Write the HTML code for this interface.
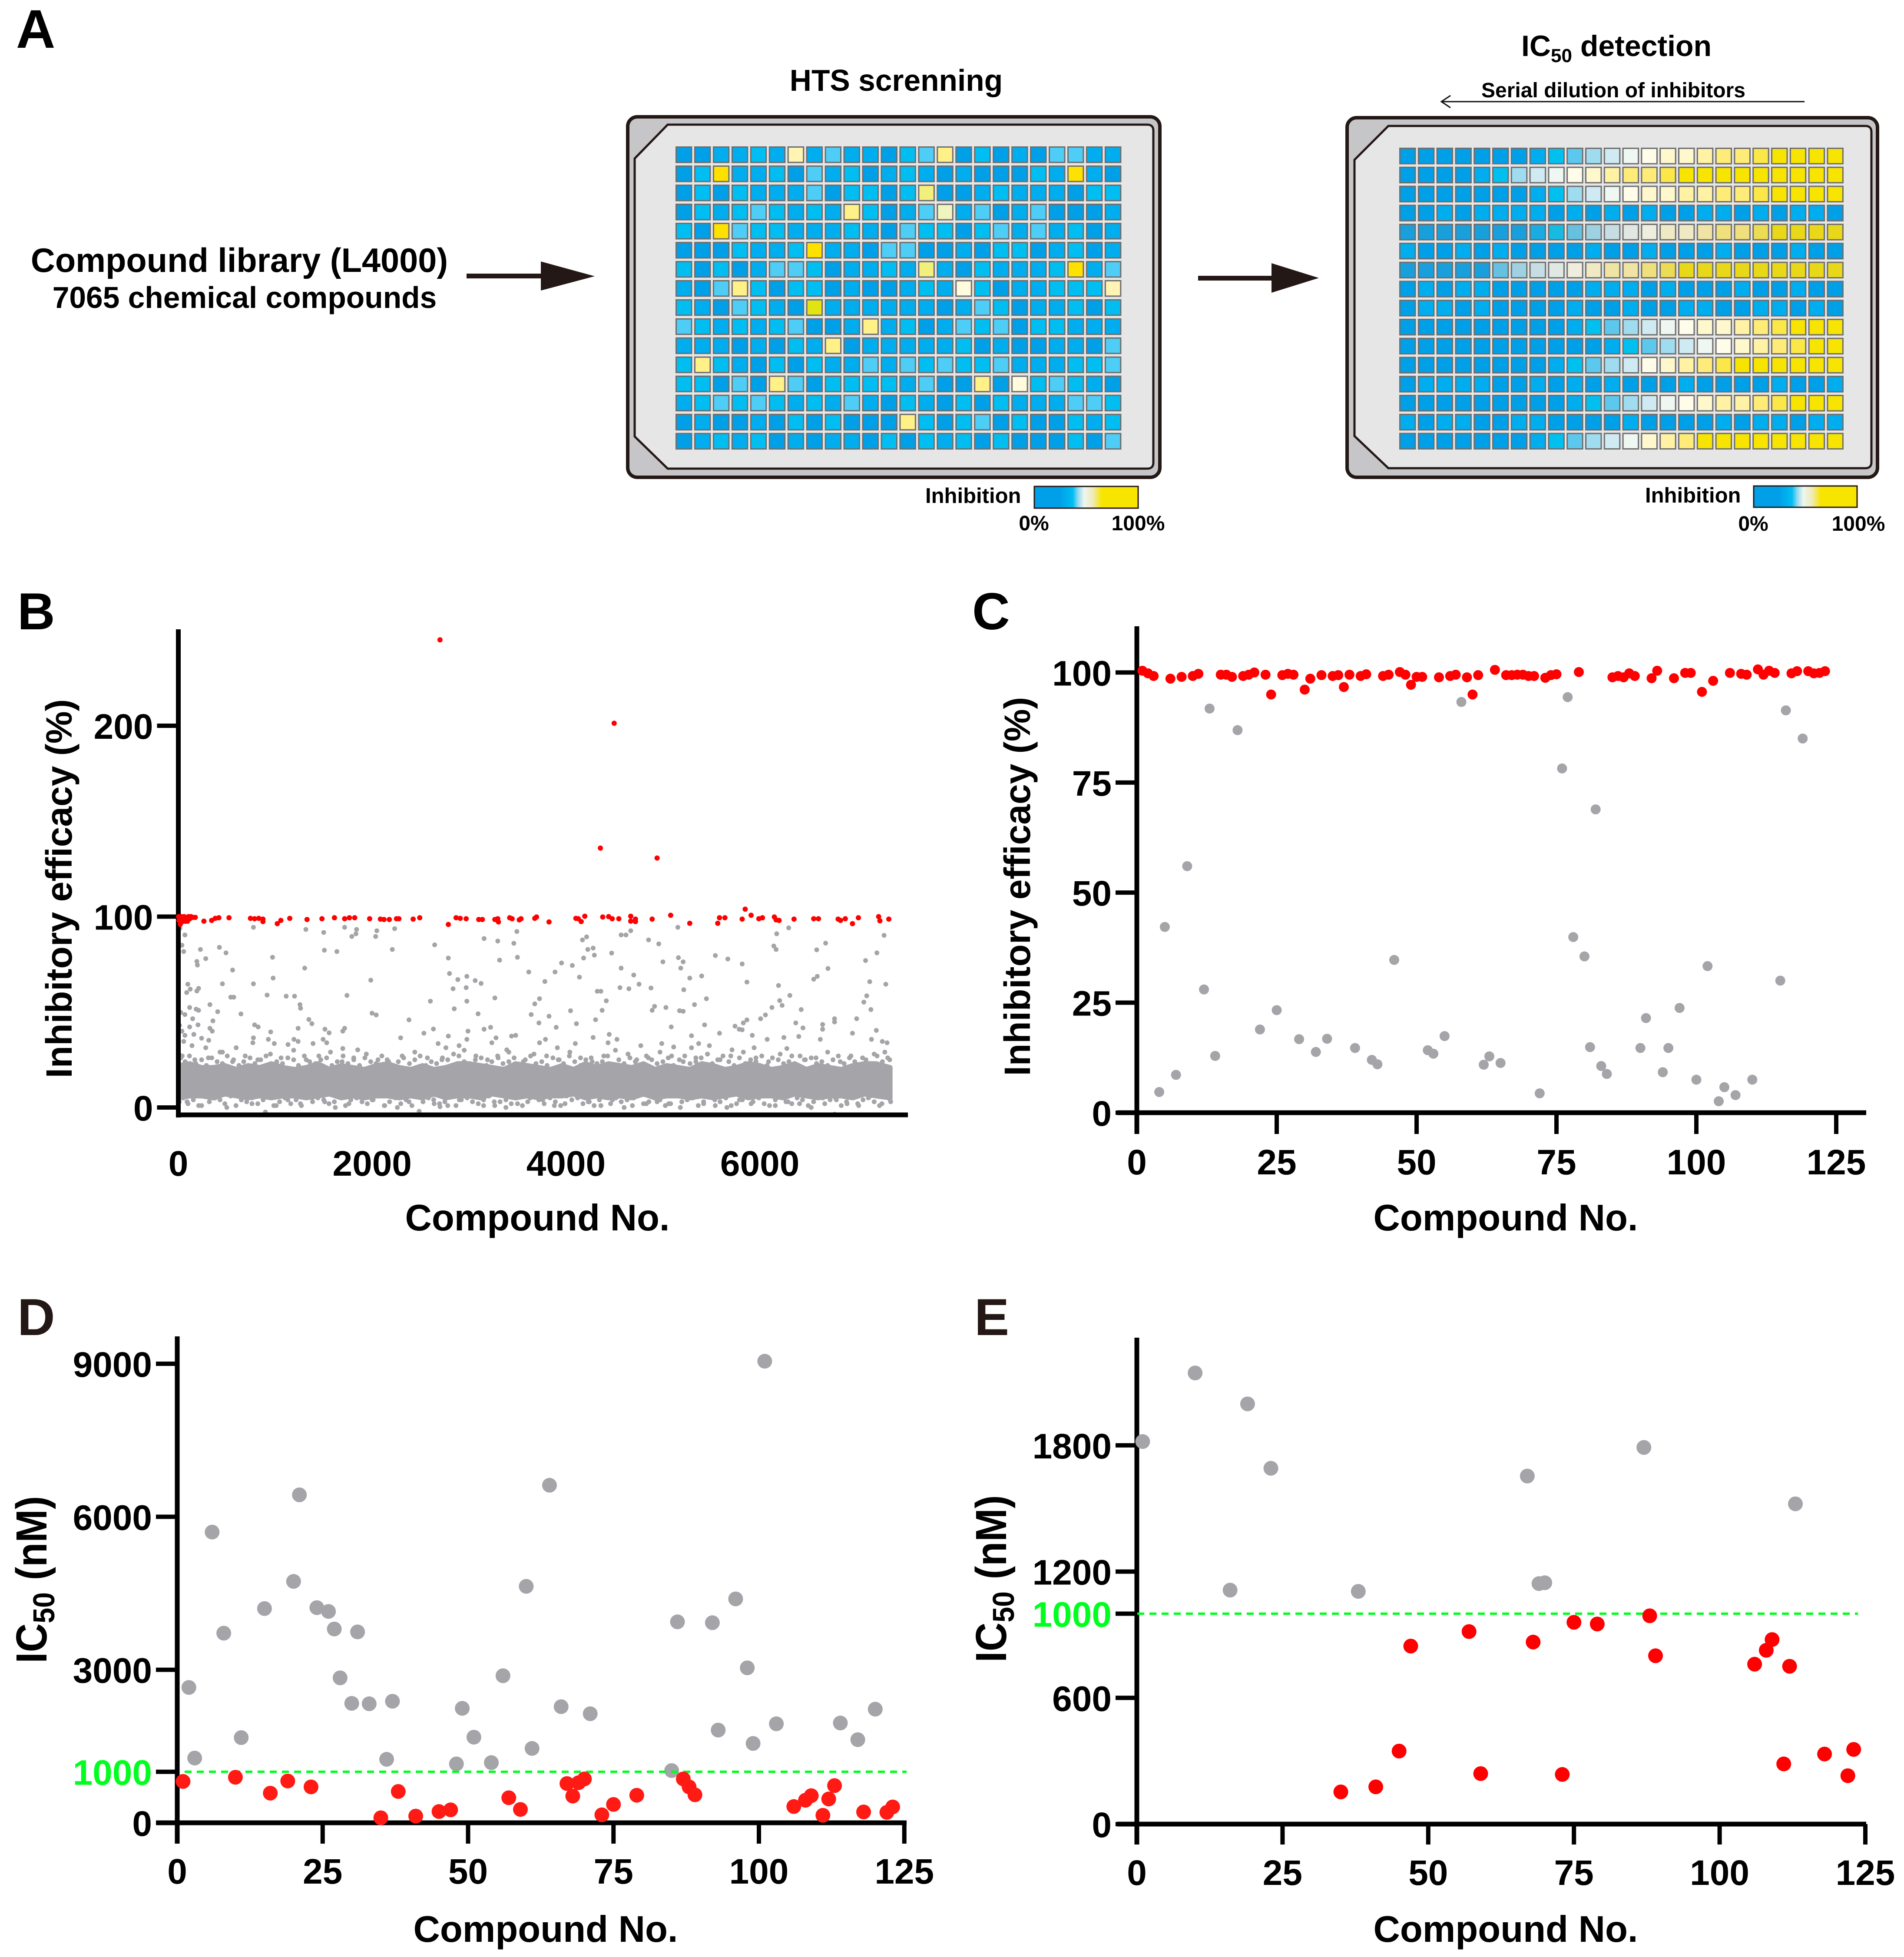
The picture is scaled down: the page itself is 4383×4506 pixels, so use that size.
<!DOCTYPE html>
<html lang="en">
<head>
<meta charset="utf-8">
<title>High-throughput screening of a compound library</title>
<style>
html,body{margin:0;padding:0;background:#fff;}
svg{display:block;font-family:"Liberation Sans",Arial,sans-serif;font-weight:bold;}
</style>
</head>
<body>
<svg id="figure" xmlns="http://www.w3.org/2000/svg" width="4383" height="4506" viewBox="0 0 4383 4506">
<defs>
<linearGradient id="inhibition-gradient" x1="0" x2="1" y1="0" y2="0">
<stop offset="0" stop-color="#00a0e9"/><stop offset=".25" stop-color="#00a0e9"/><stop offset=".37" stop-color="#00bdf2"/><stop offset=".42" stop-color="#8fd8ef"/><stop offset=".48" stop-color="#eef6f0"/><stop offset=".56" stop-color="#efebbd"/><stop offset=".65" stop-color="#f7e500"/><stop offset="1" stop-color="#f7e500"/>
</linearGradient>
</defs>
<rect width="4383" height="4506" fill="#fff"/>

<g>
<text x="37" y="110" font-size="125">A</text>
<text x="551" y="626" font-size="77.5" text-anchor="middle">Compound library (L4000)</text>
<text x="563" y="709" font-size="69.5" text-anchor="middle">7065 chemical compounds</text>
<g fill="#231815"><rect x="1074" y="630" width="175" height="11"/><polygon points="1245,602 1369,636 1245,669"/></g>
<g fill="#231815"><rect x="2758" y="635" width="173" height="11"/><polygon points="2927,606 3036,640 2927,674"/></g>
<text x="2063" y="209" font-size="69.5" text-anchor="middle">HTS screnning</text>
<g>
<rect x="1445" y="269" width="1225" height="830" rx="22" fill="#c6c6c8" stroke="#231815" stroke-width="8"/>
<path d="M1537 287H2641Q2655 287 2655 301V1065Q2655 1079 2641 1079H1537L1461 1005V365Z" fill="#e6e6e6" stroke="#231815" stroke-width="5"/>
<g id="hts-wells"></g>
</g>
<g>
<text x="2130" y="1158" font-size="49">Inhibition</text>
<rect x="2381" y="1120" width="239" height="50" fill="url(#inhibition-gradient)" stroke="#231815" stroke-width="3"/>
<text x="2380" y="1221" font-size="48" text-anchor="middle">0%</text>
<text x="2620" y="1221" font-size="48" text-anchor="middle">100%</text>
</g>
<text x="3502" y="129" font-size="68">IC<tspan font-size="44" dy="14">50</tspan><tspan dy="-14"> detection</tspan></text>
<text x="3714" y="224" font-size="48" text-anchor="middle">Serial dilution of inhibitors</text>
<path d="M4154 234H3318M3339 220L3318 234L3339 248" fill="none" stroke="#111" stroke-width="3"/>
<g>
<rect x="3101" y="271" width="1221" height="828" rx="22" fill="#c6c6c8" stroke="#231815" stroke-width="8"/>
<path d="M3196 290H4294Q4308 290 4308 304V1064Q4308 1078 4294 1078H3196L3118 1004V368Z" fill="#e6e6e6" stroke="#231815" stroke-width="5"/>
<g id="ic50-wells"></g>
</g>
<g>
<text x="3787" y="1157" font-size="49">Inhibition</text>
<rect x="4037" y="1119" width="238" height="49" fill="url(#inhibition-gradient)" stroke="#231815" stroke-width="3"/>
<text x="4036" y="1222" font-size="48" text-anchor="middle">0%</text>
<text x="4278" y="1222" font-size="48" text-anchor="middle">100%</text>
</g>
</g>

<g id="panel-b">
<text x="40" y="1449" font-size="120">B</text>
<text transform="translate(165,2046) rotate(-90)" font-size="84" text-anchor="middle">Inhibitory efficacy (%)</text>
<text x="1237" y="2833" font-size="85" text-anchor="middle">Compound No.</text>
</g>
<g id="panel-c">
<text x="2238" y="1449" font-size="120">C</text>
<text transform="translate(2371,2041) rotate(-90)" font-size="84" text-anchor="middle">Inhibitory efficacy (%)</text>
<text x="3466" y="2833" font-size="85" text-anchor="middle">Compound No.</text>
</g>
<g id="panel-d">
<text x="40" y="3074" font-size="120" fill="#231815">D</text>
<text transform="translate(107,3637) rotate(-90) scale(.92,1)" font-size="100" text-anchor="middle">IC<tspan font-size="70" dy="18">50</tspan><tspan dy="-18" dx="30">(nM)</tspan></text>
<text x="1256" y="4471" font-size="85" text-anchor="middle">Compound No.</text>
</g>
<g id="panel-e">
<text x="2243" y="3074" font-size="120" fill="#231815">E</text>
<text transform="translate(2316,3635) rotate(-90) scale(.92,1)" font-size="100" text-anchor="middle">IC<tspan font-size="70" dy="18">50</tspan><tspan dy="-18" dx="30">(nM)</tspan></text>
<text x="3466" y="4471" font-size="85" text-anchor="middle">Compound No.</text>
</g>
</svg>

<script>
/* ---------- Plate data ---------- */
const htsPlateRows = ["aabbcblbdbbacdeacabaddbb","acfbbcadbcabcbabaaacbfba","acacbbbdaccachaabcbbbacc","acbcdcbcbecabdkbdabdaaab","cafdccbbbcbadccacdbdbcab","aaacbbcfbbaddaabaccabcab","cacabddcabbcbhbacbbbcfbd","badecaccabaabcbgcabbcccl","cbadcbaibbbbbbabdcabbcac","dcbcbcdaabebcabdcdaccbbb","bbbabacbeabbbbbcabaabbad","cecbacacbbdbdcdccdbbbccd","ccadaedaccccbdaaeagcdcba","bcdcdcbcbdbacbacacbbbddc","abaabacacaaaecacdacaacbc","abcbcababbacacbcacaaacad"];
const htsLevels = {a:"#00a0e9",b:"#00aeef",c:"#00bef2",d:"#4ecdf6",e:"#fff088",f:"#ffe100",g:"#fffbdc",h:"#f2f07c",i:"#e1e410",k:"#f0f4bf",l:"#fff4b4"};
const ic50PlateRows = ["00000001234567889AABCCCC","000012456789AABCCCCCCCCC","00000001245678899AABCCCC","001011110101010011010110","00000001234567889AABCCCC","100101000010010001000100","0000034567899ABCCCCCCCCC","010110000011101000100100","011010000100100110011010","0000000001234567889ABCCC","00000000000123456789ABCC","0000000012345789ABCCCCCC","011110010101000100001001","0000000001234567899ABCCC","101100110000100001011011","000000012345689ACCCCCCCC"];
const ic50Levels = {0:"#00a0e9",1:"#00aeef",2:"#00c0f0",3:"#5cc8ee",4:"#9fdcf0",5:"#cfeaf2",6:"#eff7f2",7:"#fffdea",8:"#fff8cc",9:"#fff2a5",A:"#ffec78",B:"#fbe748",C:"#f7e400"};
const ic50DimmedRows = [4,6];

/* ---------- Panel B data ---------- */
const bXTicks = [0,2000,4000,6000];
const bYTicks = [0,100,200];
const bDenseCompound = [0,120,240,360,480,600,720,840,960,1080,1200,1320,1440,1560,1680,1800,1920,2040,2160,2280,2400,2520,2640,2760,2880,3000,3120,3240,3360,3480,3600,3720,3840,3960,4080,4200,4320,4440,4560,4680,4800,4920,5040,5160,5280,5400,5520,5640,5760,5880,6000,6120,6240,6360,6480,6600,6720,6840,6960,7080,7200,7345];
const bDenseUpper = [22,23,21,21,22,20,22,21,23,21,20,21,23,20,22,21,20,22,23,21,20,22,20,21,23,23,22,21,20,23,22,21,20,22,20,23,21,23,22,21,23,20,22,21,20,23,22,20,21,23,22,20,21,23,20,22,21,20,22,23,23,21];
const bDenseLower = [5,6,6,5,7,6,5,6,5,6,6,5,6,7,5,6,5,6,6,5,6,5,7,5,6,6,5,7,6,5,6,5,6,6,7,5,6,5,6,5,7,5,6,6,5,6,5,6,7,5,6,6,5,7,6,5,6,6,5,7,6,5];
const bUpperFringeCompound = [25,70,115,180,240,290,345,400,455,505,570,625,675,740,790,850,905,960,1015,1075,1130,1190,1240,1300,1355,1415,1470,1530,1585,1640,1700,1750,1810,1870,1925,1985,2040,2100,2155,2210,2270,2325,2385,2440,2495,2555,2610,2665,2725,2780,2840,2895,2950,3010,3065,3125,3180,3235,3295,3350,3410,3465,3520,3580,3635,3690,3750,3805,3865,3920,3975,4035,4090,4150,4205,4260,4320,4375,4430,4490,4545,4600,4660,4715,4770,4830,4885,4940,5000,5055,5110,5170,5225,5280,5340,5395,5450,5510,5565,5620,5680,5735,5790,5850,5905,5960,6020,6075,6130,6190,6245,6300,6360,6415,6470,6530,6585,6640,6700,6755,6810,6870,6925,6980,7040,7095,7150,7210,7265,7320];
const bUpperFringeEfficacy = [26,24,27,23,25,22,26,24,23,27,25,22,24,26,23,25,27,22,24,23,26,25,22,27,24,23,25,26,22,24,27,23,25,22,26,24,23,27,25,22,24,26,23,25,27,22,24,23,26,25,22,27,24,23,25,26,22,24,27,23,24,26,22,25,27,23,24,22,26,25,23,27,24,22,25,26,23,24,27,22,25,23,26,24,22,27,25,23,24,26,22,25,27,23,24,26,22,23,25,27,24,22,26,23,25,24,27,22,26,25,23,24,22,27,25,26,23,24,22,25,27,23,26,24,22,25,23,27,24,26];
const bLowerFringeCompound = [10,50,100,155,210,265,320,375,430,480,540,595,650,705,760,820,875,930,985,1045,1100,1160,1215,1270,1330,1385,1440,1500,1555,1610,1670,1725,1780,1840,1895,1950,2010,2065,2125,2180,2240,2295,2350,2410,2465,2525,2580,2635,2695,2750,2810,2865,2920,2980,3035,3095,3150,3205,3265,3320,3380,3435,3490,3550,3605,3660,3720,3775,3835,3890,3945,4005,4060,4120,4175,4230,4290,4345,4400,4460,4515,4570,4630,4685,4740,4800,4855,4910,4970,5025,5080,5140,5195,5250,5310,5365,5420,5480,5535,5590,5650,5705,5760,5820,5875,5930,5990,6045,6100,6160,6215,6270,6330,6385,6440,6500,6555,6610,6670,6725,6780,6840,6895,6950,7010,7065,7120,7180,7235,7290,7345];
const bLowerFringeEfficacy = [3,5,2,4,1,6,3,5,4,2,6,1,4,3,5,2,4,6,1,3,5,2,4,1,6,3,5,4,2,3,6,1,4,5,3,2,4,6,1,3,5,2,4,1,6,3,5,4,2,3,6,1,4,5,3,2,4,6,1,3,4,2,5,1,3,6,4,2,5,3,1,6,4,5,2,3,1,4,6,2,5,3,4,1,6,2,3,5,4,1,2,6,3,4,5,1,2,6,4,3,5,1,2,4,6,3,5,2,1,4,6,3,2,5,4,1,3,6,2,4,5,1,3,6,2,4,5,3,1,6,4];
const bGrayCompound = [18,68,37,55,228,191,197,283,424,492,560,98,123,86,209,191,326,455,541,572,406,646,25,117,184,209,68,148,357,117,12,203,37,68,160,326,350,240,314,55,141,283,455,597,6,
775,775,972,978,916,1304,1316,1500,1507,1636,1716,1790,1839,1833,2036,2048,2232,2208,1986,1740,1113,1199,1255,1261,1999,2042,787,824,953,1347,1378,1236,1513,1556,1697,1716,775,769,929,990,1132,1193,1236,1390,1494,1531,1697,1851,2294,2380,2601,2645,2534,2632,2786,2798,2835,2884,2977,2970,3063,3124,2977,2847,3093,3266,3155,3296,3315,3462,3493,3499,2786,2681,2761,2897,2989,2977,3155,3222,3278,3438,3481,3235,3389,
3616,3782,3887,3954,4065,4139,4182,4170,4213,4225,4280,4293,4471,4323,4360,4416,4373,4305,4047,3678,3727,3641,3825,3721,3899,4108,3788,3727,3911,4096,4280,4446,4434,4526,4569,4557,4649,4699,4754,4877,4569,4619,4668,4852,4957,5000,4914,4889,5031,5086,5154,5160,5209,5184,5277,5400,5215,5326,5449,5172,5209,5430,5295,5584,5541,5670,5818,5867,5744,5787,5830,5867,5818,5922,6008,6058,6125,6205,6230,6310,6193,6144,6168,6174,6298,6587,6679,6703,6556,6593,6427,6371,6445,6648,6771,6771,6999,7073,7103,7146,7091,7208,7134,7300,7282,7202,7152,7264,7313,6956,6648,6624,6402,6248,6279,6076,5941,5713,5480,5369,5295,5111,4988,4772,
898,2485,6771,2700,
40,170,310,430,560,690,820,950,1060,1190,1320,1450,1570,1690,1810,1940,2060,2170,2310,2440,2570,2720,2840,2950,3070,3190,3300,3410,3560,3670,3800,3930,4040,4150,4270,4390,4510,4640,4730,4850,4970,5090,5210,5340,5460,5590,5700,5830,5960,6090,6210,6330,6460,6580,6700,6830,6940,7060,7180,7290,7340,
90,240,380,500,650,760,880,1010,1130,1260,1380,1510,1620,1760,1880,2000,2130,2260,2380,2520,2640,2780,2900,3030,3150,3260,3380,3500,3630,3760,3880,3990,4110,4240,4360,4480,4600,4700,4830,4940,5060,5180,5300,5420,5540,5660,5790,5910,6040,6160,6290,6410,6530,6650,6790,6900,7020,7140,7260,7350];
const bGrayEfficacy = [94,90.4,85,81.7,82.8,76.5,74.6,78,83.9,81,72,64.6,62,60.2,62.4,61,53.9,64.8,57.8,57.8,50.2,49,49.8,52.4,51.5,50.9,48.7,46.5,45.4,42.2,43,43.3,40,37.8,38.3,41.5,40,36.3,35.2,34.6,32.4,31.3,29,31.3,28,
94.4,64.8,78.7,67.8,58.9,73,93.3,91.7,82.4,81.7,94.4,89.6,93.3,91,89.6,92.6,93.7,82.8,66.7,58.7,58.3,58.3,53.9,52,49.4,48.5,43.3,42.2,39.6,46.1,43.9,41.5,41,39.1,40,41.5,36.5,33.9,35.7,33.5,33,35.7,34.6,33.5,35.7,33.9,30.9,30.2,36.5,45.9,55.7,85.2,38.9,41.1,78.3,70.2,62.2,67,68.7,62.8,66.5,65,55.7,51.7,49.1,57.4,88.5,87.2,77.2,86,92.2,78.7,37.4,33.5,31.3,32.4,40,35.7,41,42,36.5,37.4,37.8,33.9,30.2,
71,66,71,75.7,74.4,68.3,78.3,87.8,89.4,82.8,83.5,79.8,80.9,60.9,60.9,55.9,50.9,46,50.7,54.3,57,48.7,47.8,44.3,42,43.9,35.7,33.9,31.3,33.5,36.7,38.3,33.9,35.7,73,62.8,62.2,69.4,64.6,62.6,90.4,90.4,92.6,87.8,85.7,76.3,53,50.9,52.4,42.2,94.4,78.5,76.3,73,67.8,68.9,61.7,53.9,57,50.7,50.4,43.3,37.6,38.9,79.6,77.8,75.2,65.7,42.6,41,44.3,45.9,40.7,37.8,46.5,48.5,52.4,56,53.5,58.7,63.9,84.6,82.8,91,94.1,82.6,86.1,72.8,67.2,68.7,51.3,44.3,41.7,43.5,46.5,44.8,46.5,55.2,58.5,51.3,77,81,65.9,64.6,90.2,40.4,35.7,34.6,33.9,38.9,41,35.7,37.2,36.7,30.9,35.7,31.3,30.2,32.4,33.5,31.3,31.7,33.5,32.4,
-2.4,-2,-3.5,0.4,
27,25,26,29,24,27,25,28,26,30,25,27,29,24,26,28,25,24,27,29,26,25,28,30,27,25,26,29,24,28,27,25,29,26,24,27,30,28,25,26,29,27,24,26,28,25,27,29,26,24,28,27,25,26,29,24,27,26,28,29,25,
3,1,5,0,4,2,6,1,4,2,5,3,0,2,6,4,1,0,3,5,2,1,4,6,1,3,0,2,5,4,1,2,6,3,1,4,0,5,2,3,2,0,5,3,1,0,4,2,6,1,3,2,0,5,4,2,1,6,2,3];
const bRedCompound = [3,8,14,20,26,32,38,45,52,60,68,75,85,95,105,118,130,150,175,264,344,381,418,523,744,787,830,873,873,1021,1058,1150,1328,1482,1611,1716,1765,1820,1974,2085,2122,2177,2251,2276,2423,2491,2700,2786,2866,2909,2970,3100,3137,3266,3296,3303,3419,3444,3518,3536,3678,3696,3825,4102,4127,4157,4194,4355,4379,4440,4477,4497,4545,4668,4668,4717,4717,4889,4940,5080,5277,5566,5584,5640,5818,5849,5910,5990,6027,6150,6168,6199,6353,6556,6605,6808,6833,6882,6956,7017,7226,7239,7331];
const bRedEfficacy = [100,98,99,96,97.5,100,98,99,97.5,100,98.5,97.6,99.5,97.6,100,98.9,100,99.6,99.6,97.6,98,99.1,99.4,99.4,99.1,98.9,99.1,98.7,97.4,96.3,98,99.1,98.5,98.9,99.4,98.9,99.4,99.4,98.9,98.7,98.5,98.5,98.9,98.9,98.7,99.4,245,95.9,99.4,99.1,98.9,98.5,98.5,98.5,98.9,97.2,99.4,98.9,98.3,98.9,99.1,99.8,97.2,99.1,98.9,97.4,100.2,135.9,99.8,100,98.9,201.3,98.9,100.2,97.6,98.7,97.4,98.7,130.7,100.7,96.5,96.5,99.4,99.4,98.7,103.9,100.7,98.9,99.4,99.8,98.3,98,98.7,98.9,98.9,98.7,98,98.9,96.3,99.4,100,97.8,98.7];

/* ---------- Panel C data ---------- */
const cXTicks = [0,25,50,75,100,125];
const cYTicks = [0,25,50,75,100];
const cGrayCompound = [4,5,7,9,12,13,14,18,22,25,29,32,34,39,42,43,46,52,53,55,58,62,63,65,72,76,77,78,80,81,82,83,84,90,91,94,95,97,100,102,104,105,107,110,115,116,119];
const cGrayEfficacy = [4.7,42.2,8.6,56,28,91.8,12.9,86.9,18.9,23.3,16.7,13.8,16.8,14.7,12,11,34.7,14.2,13.4,17.4,93.3,10.9,12.8,11.3,4.4,78.2,94.4,39.9,35.5,14.9,68.9,10.6,8.8,14.7,21.5,9.2,14.7,23.8,7.5,33.3,2.6,5.8,4,7.5,30,91.4,85];
const cRedCompound = [1,2,3,6,8,10,11,15,16,17,19,20,21,23,24,26,27,28,30,31,33,35,36,37,38,40,41,44,45,47,48,49,50,51,54,56,57,59,60,61,64,66,67,68,69,70,71,73,74,75,79,85,86,87,88,89,92,93,96,98,99,101,103,106,108,109,111,112,113,114,117,118,120,121,122,123];
const cRedEfficacy = [100.4,99.8,99.2,98.6,99,99.2,99.7,99.5,99.5,99,99.2,99.5,100,99.5,95,99.4,99.7,99.5,96.1,98.6,99.4,99.2,99.4,96.7,99.5,99.2,99.6,99.2,99.5,100.1,99.5,97.2,99,99,98.9,99.2,99.5,98.9,95,99.4,100.6,99.4,99.4,99.5,99.5,99.2,99.2,98.8,99.4,99.6,100.1,98.9,99.2,98.9,99.8,99.2,98.7,100.4,98.7,99.9,99.9,95.6,98.1,99.9,99.7,99.5,100.7,99.5,100.4,99.9,99.8,100.3,100.3,99.8,99.9,100.3];

/* ---------- Panel D data ---------- */
const dXTicks = [0,25,50,75,100,125];
const dYTicks = [0,3000,6000,9000];
const dThreshold = [1000];
const dGrayCompound = [2,3,6,8,11,15,20,21,24,26,27,28,30,31,33,36,37,48,49,51,54,56,60,61,64,66,71,85,86,92,93,96,98,99,101,103,114,117,120];
const dGrayIC50 = [2654,1269,5700,3718,1670,4200,4733,6430,4218,4144,3800,2842,2342,3743,2334,1245,2383,1155,2244,1679,1180,2883,4636,1458,6618,2277,2138,1024,3940,3923,1818,4390,3038,1556,9050,1941,1957,1630,2228];
const dRedCompound = [1,10,16,19,23,35,38,41,45,47,57,59,67,68,69,70,73,75,79,87,88,89,106,108,109,111,112,113,118,122,123];
const dRedIC50 = [811,893,581,819,704,98,614,131,221,254,491,262,770,524,786,860,156,360,540,860,704,549,319,442,532,147,467,729,213,205,311];

/* ---------- Panel E data ---------- */
const eXTicks = [0,25,50,75,100,125];
const eYTicks = [0,600,1200,1800];
const eThreshold = [1000];
const eGrayCompound = [1,10,16,19,23,38,67,69,70,87,113];
const eGrayIC50 = [1818,2144,1112,1997,1691,1106,1654,1143,1147,1790,1522];
const eRedCompound = [35,41,45,47,57,59,68,73,75,79,88,89,106,108,109,111,112,118,122,123];
const eRedIC50 = [153,177,347,846,915,240,865,236,959,951,990,800,760,826,877,286,750,333,230,355];

/* ---------- Drawing helpers ---------- */
const NS = "http://www.w3.org/2000/svg";
const GRAY = "#a4a4a9";
const RED = "#ff0000";
const GREEN = "#00ff1e";
function make(tag, parent, attrs) {
  const node = document.createElementNS(NS, tag);
  for (const key in attrs) node.setAttribute(key, attrs[key]);
  parent.appendChild(node);
  return node;
}
function drawWells(group, rows, levels, left, top, stepX, stepY, dimmed) {
  rows.forEach((row, r) => {
    [...row].forEach((code, c) => {
      const well = make("rect", group, {x: left + c * stepX + 1.5, y: top + r * stepY + 1.5, width: 35.5, height: 35.5, fill: levels[code], stroke: "#6d6d6d", "stroke-width": 3});
      
      
      if (dimmed && dimmed.includes(r)) {
        const shade = make("rect", group, {x: left + c * stepX + 3, y: top + r * stepY + 3, width: 32.5, height: 32.5, fill: "#999", "fill-opacity": .16});
        
        
      }
    });
  });
}
function drawAxes(group, o) {
  const x0 = o.sx(0), y0 = o.sy(0);
  const yAxis = make("rect", group, {x: x0 - 5.5, y: o.top, width: 11, height: o.axisBottom - o.top, fill: "#000"});
  
  
  const xAxis = make("rect", group, {x: o.axisLeft, y: o.xAxisY - 5.5, width: o.axisRight - o.axisLeft, height: 11, fill: "#000"});
  
  
  o.yTicks.forEach(v => {
    const tick = make("rect", group, {x: x0 - 49, y: o.sy(v) - 5, width: 49, height: 10, fill: "#000"});
    
    
    const label = make("text", group, {x: x0 - 58, y: o.sy(v) + 30, "font-size": 82, "text-anchor": "end"});
    label.textContent = v;
    
    
  });
  o.xTicks.forEach(v => {
    if (o.xTickLength) {
      const tick = make("rect", group, {x: o.sx(v) - 5, y: y0, width: 10, height: o.xTickLength, fill: "#000"});
      
      
    }
    const label = make("text", group, {x: o.sx(v), y: o.labelBaseline, "font-size": 82, "text-anchor": "middle"});
    label.textContent = v;
    
    
  });
}
function drawThreshold(group, o, value, lineLeft, lineRight) {
  const y = o.sy(value);
  const tick = make("rect", group, {x: o.sx(0) - 49, y: y - 5, width: 49, height: 10, fill: "#000"});
  
  
  const label = make("text", group, {x: o.sx(0) - 58, y: y + 30, "font-size": 82, "text-anchor": "end", fill: GREEN});
  label.textContent = value;
  
  
  return {y, lineLeft, lineRight};
}
function drawThresholdLine(group, spec) {
  const line = make("line", group, {x1: spec.lineLeft, x2: spec.lineRight, y1: spec.y, y2: spec.y, stroke: GREEN, "stroke-width": 5.5, "stroke-dasharray": "16 12"});
  
  
}
function drawPoints(group, xs, ys, sx, sy, radius, color, isHit) {
  xs.forEach((x, i) => {
    const point = make("circle", group, {cx: sx(x), cy: sy(ys[i]), r: radius, fill: color});
    
    
  });
}

/* ---------- Panel A wells ---------- */
drawWells(document.getElementById("hts-wells"), htsPlateRows, htsLevels, 1555, 337, 42.95, 43.98);
drawWells(document.getElementById("ic50-wells"), ic50PlateRows, ic50Levels, 3221, 340, 42.8, 43.77, ic50DimmedRows);

/* ---------- Panel B ---------- */
const bAxes = {sx: v => 410.5 + v * 0.2231, sy: v => 2550 - v * 4.395, xTicks: bXTicks, yTicks: bYTicks, top: 1449, axisBottom: 2573, axisLeft: 405, axisRight: 2090, xAxisY: 2567, xTickLength: 0, labelBaseline: 2707};
const bGroup = document.getElementById("panel-b");
const densePoints = bDenseCompound.map((x, i) => bAxes.sx(x) + "," + bAxes.sy(bDenseUpper[i])).concat(bDenseCompound.map((x, i) => bAxes.sx(x) + "," + bAxes.sy(bDenseLower[i])).reverse()).join(" ");
const denseBand = make("polygon", bGroup, {points: densePoints, fill: GRAY, stroke: GRAY, "stroke-width": 11, "stroke-linejoin": "round"});


drawPoints(bGroup, bUpperFringeCompound, bUpperFringeEfficacy, bAxes.sx, bAxes.sy, 5.5, GRAY, false);
drawPoints(bGroup, bLowerFringeCompound, bLowerFringeEfficacy, bAxes.sx, bAxes.sy, 5.5, GRAY, false);
drawPoints(bGroup, bGrayCompound, bGrayEfficacy, bAxes.sx, bAxes.sy, 5.5, GRAY, false);
drawAxes(bGroup, bAxes);
drawPoints(bGroup, bRedCompound, bRedEfficacy, bAxes.sx, bAxes.sy, 6, RED, true);

/* ---------- Panel C ---------- */
const cAxes = {sx: v => 2617 + v * 12.88, sy: v => 2562 - v * 10.136, xTicks: cXTicks, yTicks: cYTicks, top: 1442, axisBottom: 2611, axisLeft: 2572, axisRight: 4296, xAxisY: 2562, xTickLength: 49, labelBaseline: 2704};
const cGroup = document.getElementById("panel-c");
drawAxes(cGroup, cAxes);
drawPoints(cGroup, cGrayCompound, cGrayEfficacy, cAxes.sx, cAxes.sy, 11.5, GRAY, false);
drawPoints(cGroup, cRedCompound, cRedEfficacy, cAxes.sx, cAxes.sy, 11.5, RED, true);

/* ---------- Panel D ---------- */
const dAxes = {sx: v => 408 + v * 13.39, sy: v => 4197 - v * 0.11744, xTicks: dXTicks, yTicks: dYTicks, top: 3077, axisBottom: 4245, axisLeft: 360, axisRight: 2087, xAxisY: 4197, xTickLength: 48, labelBaseline: 4337};
const dGroup = document.getElementById("panel-d");
drawAxes(dGroup, dAxes);
const dLine = drawThreshold(dGroup, dAxes, dThreshold[0], 425, 2087);
drawPoints(dGroup, dGrayCompound, dGrayIC50, dAxes.sx, dAxes.sy, 17, GRAY, false);
drawThresholdLine(dGroup, dLine);
drawPoints(dGroup, dRedCompound, dRedIC50, dAxes.sx, dAxes.sy, 17, "#ff1a14", true);

/* ---------- Panel E ---------- */
const eAxes = {sx: v => 2617 + v * 13.416, sy: v => 4200 - v * 0.4845, xTicks: eXTicks, yTicks: eYTicks, top: 3080, axisBottom: 4247, axisLeft: 2572, axisRight: 4296, xAxisY: 4200, xTickLength: 47, labelBaseline: 4340};
const eGroup = document.getElementById("panel-e");
drawAxes(eGroup, eAxes);
const eLine = drawThreshold(eGroup, eAxes, eThreshold[0], 2618, 4277);
drawPoints(eGroup, eGrayCompound, eGrayIC50, eAxes.sx, eAxes.sy, 17, GRAY, false);
drawThresholdLine(eGroup, eLine);
drawPoints(eGroup, eRedCompound, eRedIC50, eAxes.sx, eAxes.sy, 17, RED, true);
</script>
</body>
</html>
